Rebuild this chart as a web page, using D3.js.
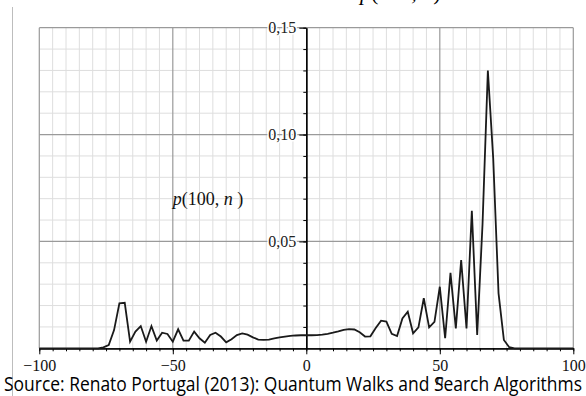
<!DOCTYPE html>
<html>
<head>
<meta charset="utf-8">
<script src="https://cdn.jsdelivr.net/npm/d3@7"></script>
<style>
  body { margin: 0; background: #fff; }
  #chart { width: 586px; height: 396px; overflow: hidden; }
</style>
</head>
<body>
<div id="chart"></div>
<script>
// positions n (even sites only) and probabilities p(100, n)
var nValues = [-100,-98,-96,-94,-92,-90,-88,-86,-84,-82,-80,-78,
  -76,-74,-72,-70,-68,-66,-64,-62,-60,-58,-56,-54,-52,-50,-48,-46,-44,-42,-40,
  -38,-36,-34,-32,-30,-28,-26,-24,-22,-20,-18,-16,-14,-12,-10,-8,-6,-4,-2,
  0,2,4,6,8,10,12,14,16,18,20,22,24,26,28,30,32,34,36,38,
  40,42,44,46,48,50,52,54,56,58,60,62,64,66,68,70,72,74,76,
  78,80,82,84,86,88,90,92,94,96,98,100];
var pValues = [0,0,0,0,0,0,0,0,0,0,0,0,
  0.0004,0.0015,0.0085,0.0210,0.0213,0.0031,0.0078,0.0104,0.0031,0.0104,0.0036,0.0073,0.0067,0.0031,0.0089,0.0036,0.0036,0.0078,0.0047,
  0.0026,0.0062,0.0073,0.0055,0.0028,0.0042,0.0062,0.0070,0.0064,0.0051,0.0041,0.0039,0.0041,0.0046,0.0051,0.0055,0.0058,0.0060,0.0061,
  0.0061,0.0061,0.0062,0.0064,0.0068,0.0073,0.0079,0.0086,0.0090,0.0088,0.0075,0.0055,0.0056,0.0095,0.0129,0.0125,0.0068,0.0057,0.0140,0.0171,
  0.0070,0.0098,0.0234,0.0098,0.0124,0.0288,0.0047,0.0353,0.0093,0.0413,0.0093,0.0643,0.0062,0.058,0.130,0.089,0.0257,0.0039,0.0005,
  0,0,0,0,0,0,0,0,0,0,0,0];

var xMinorTicks = d3.range(-100, 101, 5);
var xMajorTicks = [-100, -50, 0, 50, 100];
var yMinorTicks = [0.01,0.02,0.03,0.04,0.05,0.06,0.07,0.08,0.09,0.10,0.11,0.12,0.13,0.14,0.15];
var yMajorTicks = [0.05, 0.10, 0.15];
var sourceText = "Source:  Renato Portugal (2013): Quantum Walks and Search Algorithms";

var data = nValues.map(function(n, i){ return {n: n, p: pValues[i]}; });

var margin = {top: 27.7, left: 39.3},
    width = 534,
    height = 320.6;

var svg = d3.select("#chart").append("svg")
    .attr("width", 586)
    .attr("height", 396);

// stray page border line on the left
svg.append("line")
    .attr("x1", 12.5).attr("x2", 12.5)
    .attr("y1", 7).attr("y2", 396)
    .attr("stroke", "#bdbdbd").attr("stroke-width", 1);

// cut-off label at the very top, only its lowest strokes show
svg.append("text")
    .attr("x", 360).attr("y", -0.5)
    .style("font-family", "Liberation Serif").style("font-size", "22px")
    .html('<tspan font-style="italic">p</tspan>(100, <tspan font-style="italic">n</tspan>)');

var g = svg.append("g")
    .attr("transform", "translate(" + margin.left + "," + margin.top + ")");

var x = d3.scaleLinear().domain([-100, 100]).range([0, width]);
var y = d3.scaleLinear().domain([0, 0.15]).range([height, 0]);

// minor grid
g.append("g").selectAll("line")
    .data(xMinorTicks.filter(function(d){ return d % 50 != 0; }))
    .enter().append("line")
    .attr("x1", function(d){ return x(d); }).attr("x2", function(d){ return x(d); })
    .attr("y1", 0).attr("y2", height)
    .attr("stroke", "#dedede").attr("stroke-width", 1);
g.append("g").selectAll("line")
    .data(yMinorTicks.filter(function(d){ return yMajorTicks.indexOf(d) < 0; }))
    .enter().append("line")
    .attr("x1", 0).attr("x2", width)
    .attr("y1", function(d){ return y(d); }).attr("y2", function(d){ return y(d); })
    .attr("stroke", "#dedede").attr("stroke-width", 1);

// major grid
g.append("g").selectAll("line")
    .data(xMajorTicks.filter(function(d){ return d != 0; }))
    .enter().append("line")
    .attr("x1", function(d){ return x(d); }).attr("x2", function(d){ return x(d); })
    .attr("y1", 0).attr("y2", height)
    .attr("stroke", "#9a9a9a").attr("stroke-width", 1.2);
g.append("g").selectAll("line")
    .data(yMajorTicks)
    .enter().append("line")
    .attr("x1", 0).attr("x2", width)
    .attr("y1", function(d){ return y(d); }).attr("y2", function(d){ return y(d); })
    .attr("stroke", "#9a9a9a").attr("stroke-width", 1.2);

// x axis
var xAxisMinor = d3.axisBottom(x).tickValues(xMinorTicks).tickSize(3).tickSizeOuter(0).tickFormat("");
var xAxisMajor = d3.axisBottom(x).tickValues(xMajorTicks).tickSize(6).tickSizeOuter(0).tickPadding(5.5)
    .tickFormat(function(d){ return d < 0 ? "\u2212" + Math.abs(d) : d; });
g.append("g").attr("transform", "translate(0," + height + ")").call(xAxisMinor);
var xa = g.append("g").attr("transform", "translate(0," + height + ")").call(xAxisMajor);
g.selectAll(".domain").attr("stroke", "#000").attr("stroke-width", 1.3);
xa.selectAll("text")
    .style("font-family", "Liberation Serif").style("font-size", "16px").attr("fill", "#111");

// y axis at n = 0
var yAxisMinor = d3.axisLeft(y).tickValues(yMinorTicks).tickSize(3).tickSizeOuter(0).tickFormat("");
var yAxisMajor = d3.axisLeft(y).tickValues(yMajorTicks).tickSize(7).tickSizeOuter(0).tickPadding(3)
    .tickFormat(function(d){ return d3.format(".2f")(d).replace(".", ","); });
g.append("g").attr("transform", "translate(" + x(0) + ",0)").call(yAxisMinor)
    .select(".domain").attr("stroke", "#000").attr("stroke-width", 1.3);
var ya = g.append("g").attr("transform", "translate(" + x(0) + ",0)").call(yAxisMajor);
ya.select(".domain").attr("stroke", "#000").attr("stroke-width", 1.3);
ya.selectAll("text")
    .style("font-family", "Liberation Serif").style("font-size", "16px").attr("fill", "#222")
    .attr("stroke", "#fff").attr("stroke-width", 3).attr("paint-order", "stroke");
g.selectAll(".tick line").attr("stroke", "#000");

// probability curve
var line = d3.line()
    .x(function(d){ return x(d.n); })
    .y(function(d){ return y(d.p); });
g.append("path")
    .datum(data)
    .attr("d", line)
    .attr("fill", "none")
    .attr("stroke", "#1a1a1a")
    .attr("stroke-width", 1.8)
    .attr("stroke-linejoin", "miter");

// labels
g.append("text")
    .attr("x", x(-50)).attr("y", y(0.067))
    .style("font-family", "Liberation Serif").style("font-size", "18px").attr("fill", "#111")
    .html('<tspan font-style="italic">p</tspan>(100, <tspan font-style="italic">n</tspan> )');
g.append("text")
    .attr("x", x(50)).attr("y", height + 37)
    .attr("text-anchor", "middle")
    .style("font-family", "Liberation Serif").style("font-size", "17px").style("font-style", "italic").attr("fill", "#333")
    .text("n");

svg.append("text")
    .attr("x", 4).attr("y", 391)
    .attr("textLength", 578).attr("lengthAdjust", "spacingAndGlyphs")
    .style("font-family", "Open Sans").style("font-size", "20px").attr("fill", "#000")
    .text(sourceText);
</script>
</body>
</html>
